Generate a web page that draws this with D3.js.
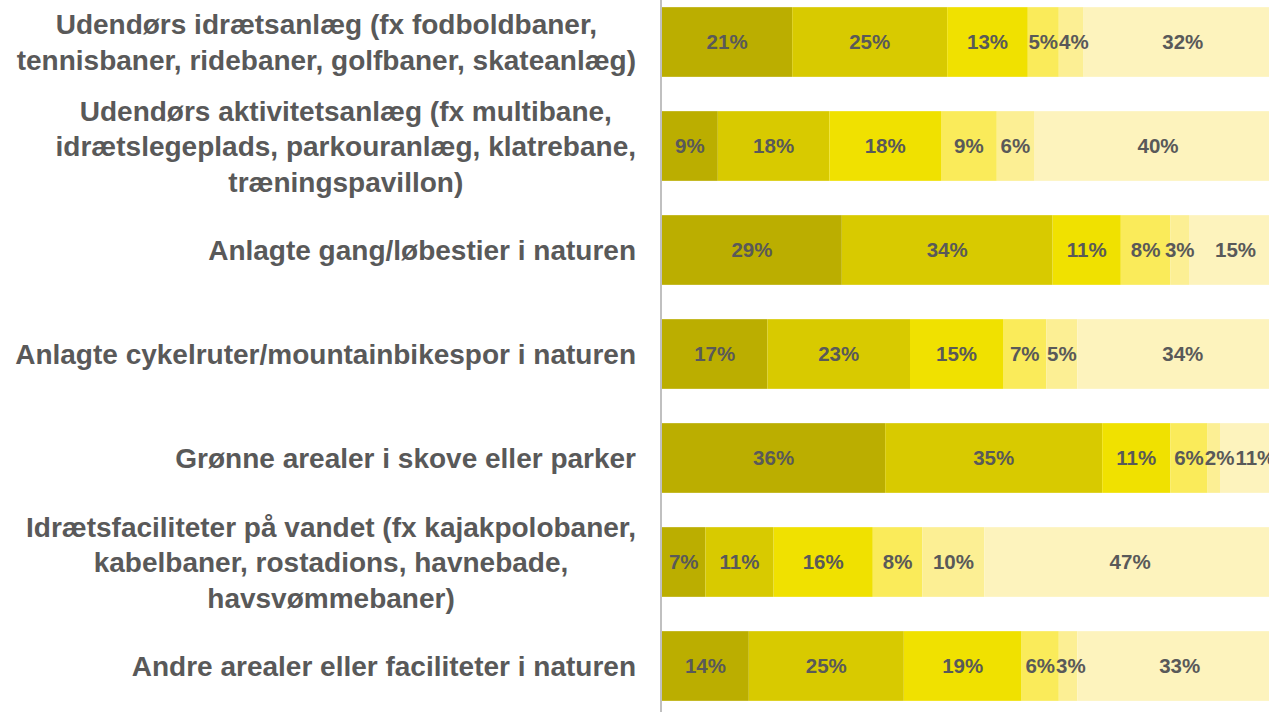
<!DOCTYPE html>
<html>
<head>
<meta charset="utf-8">
<script src="https://cdn.jsdelivr.net/npm/d3@7"></script>
<style>
  html, body { margin: 0; padding: 0; background: #fff; overflow: hidden; }
  svg { display: block; }
</style>
</head>
<body>
<svg id="chart" width="1269" height="712"></svg>
<script>
// Facility types (each entry is split into display lines)
const categories = [
  ["Udendørs idrætsanlæg (fx fodboldbaner,", "tennisbaner, ridebaner, golfbaner, skateanlæg)"],
  ["Udendørs aktivitetsanlæg (fx multibane,", "idrætslegeplads, parkouranlæg, klatrebane,", "træningspavillon)"],
  ["Anlagte gang/løbestier i naturen"],
  ["Anlagte cykelruter/mountainbikespor i naturen"],
  ["Grønne arealer i skove eller parker"],
  ["Idrætsfaciliteter på vandet (fx kajakpolobaner,", "kabelbaner, rostadions, havnebade,", "havsvømmebaner)"],
  ["Andre arealer eller faciliteter i naturen"]
];

// Share of answers per response level, in percent (one value per category)
const level1 = [21, 9, 29, 17, 36, 7, 14];
const level2 = [25, 18, 34, 23, 35, 11, 25];
const level3 = [13, 18, 11, 15, 11, 16, 19];
const level4 = [5, 9, 8, 7, 6, 8, 6];
const level5 = [4, 6, 3, 5, 2, 10, 3];
const level6 = [32, 40, 15, 34, 11, 47, 33];

const levels = [level1, level2, level3, level4, level5, level6];
const colors = ["#bbae00", "#d8ca00", "#f0e100", "#faeb5a", "#fcef94", "#fdf3bd"];

const svg = d3.select("#chart");
const textColor = "#595959";
const fontFamily = "'Liberation Sans', Arial, sans-serif";

const x0 = 662;
const x = d3.scaleLinear().domain([0, 100]).range([x0, x0 + 620]);
const y = d3.scaleBand()
  .domain(d3.range(categories.length))
  .range([-10, 718])
  .paddingInner(0.33)
  .paddingOuter(0.165);

// stack the levels per category
const rows = categories.map((c, i) => {
  let acc = 0;
  return levels.map((lv, k) => {
    const seg = { row: i, level: k, v: lv[i], x0: acc, x1: acc + lv[i] };
    acc += lv[i];
    return seg;
  });
});

const segs = rows.flat();

svg.append("g").selectAll("rect")
  .data(segs)
  .join("rect")
  .attr("x", d => x(d.x0))
  .attr("width", d => x(d.x1) - x(d.x0))
  .attr("y", d => y(d.row))
  .attr("height", y.bandwidth())
  .attr("fill", d => colors[d.level]);

const valueLabels = svg.append("g").selectAll("text")
  .data(segs)
  .join("text")
  .attr("x", d => (x(d.x0) + x(d.x1)) / 2)
  .attr("y", d => y(d.row) + y.bandwidth() / 2)
  .attr("dy", "0.36em")
  .attr("text-anchor", "middle")
  .attr("font-family", fontFamily)
  .attr("font-weight", "bold")
  .attr("font-size", 20.5)
  .attr("fill", textColor)
  .text(d => d.v + "%");

// nudge labels of narrow segments to the right so they don't collide
const labelGap = 1;
valueLabels.each(function (d) { d.w = this.getComputedTextLength(); d.cx = (x(d.x0) + x(d.x1)) / 2; });
rows.forEach(row => {
  let prevEnd = -Infinity;
  row.forEach(d => {
    const start = Math.max(d.cx - d.w / 2, prevEnd + labelGap);
    d.cx = start + d.w / 2;
    prevEnd = start + d.w;
  });
});
valueLabels.attr("x", d => d.cx);

// vertical axis line
svg.append("line")
  .attr("x1", 661).attr("x2", 661)
  .attr("y1", 0).attr("y2", 712)
  .attr("stroke", "#c0c0c0")
  .attr("stroke-width", 2);

// category labels, centered as a block whose widest line ends at the right edge
const labelRight = 636;
const lineH = 35.5;
const lg = svg.append("g")
  .attr("font-family", fontFamily)
  .attr("font-weight", "bold")
  .attr("font-size", 28)
  .attr("fill", textColor);

categories.forEach((lines, i) => {
  const cy = y(i) + y.bandwidth() / 2;
  const t = lg.append("text").attr("text-anchor", "middle");
  lines.forEach((ln, j) => {
    t.append("tspan")
      .attr("y", cy + (j - (lines.length - 1) / 2) * lineH)
      .attr("dy", "0.36em")
      .text(ln);
  });
  let maxW = 0;
  t.selectAll("tspan").each(function () {
    maxW = Math.max(maxW, this.getComputedTextLength());
  });
  t.selectAll("tspan").attr("x", labelRight - maxW / 2);
});
</script>
</body>
</html>
